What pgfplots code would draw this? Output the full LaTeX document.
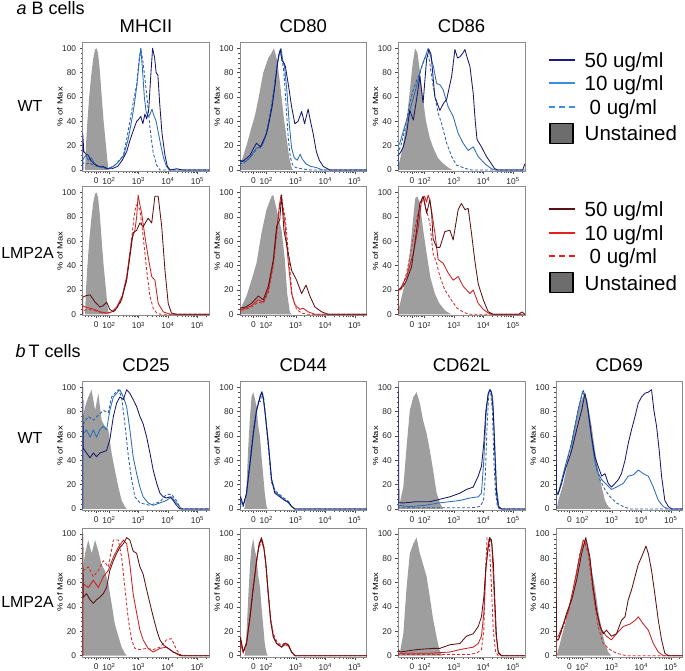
\documentclass[border=0pt]{standalone}
\usepackage{pgfplots}
\pgfplotsset{compat=1.18}
\usepackage{fontspec}
\setmainfont{Liberation Sans}
\usepackage{graphicx}
\definecolor{wtA}{HTML}{17176E}
\definecolor{wtB}{HTML}{2B6CB8}
\definecolor{wtC}{HTML}{2A5FA5}
\definecolor{wtAL}{HTML}{1A1A80}
\definecolor{wtBL}{HTML}{3A8EE6}
\definecolor{lmA}{HTML}{5E1014}
\definecolor{lmB}{HTML}{CC2020}
\definecolor{lmC}{HTML}{D42A2A}
\definecolor{lmBL}{HTML}{E8201C}
\definecolor{unst}{HTML}{9E9E9E}
\definecolor{unstL}{HTML}{6D6D6D}
\definecolor{frame}{HTML}{8C8C8C}
\pgfplotsset{
 panel/.style={
  scale only axis, width=126.5pt, height=129pt, anchor=south west,
  xmin=1.11, xmax=5.4, ymin=-1, ymax=105,
  axis line style={frame, line width=0.6pt},
  tick style={black!70, line width=0.4pt},
  tick pos=left,
  tick align=outside, major tick length=3pt, minor tick length=1.8pt,
  xtick={1.57,2,3,4,5},
  xticklabels={0,10\textsuperscript{2},10\textsuperscript{3},10\textsuperscript{4},10\textsuperscript{5}},
  minor xtick={1.2,1.3,1.4,1.5,1.65,1.72,1.8,1.87,1.93,
   2.301,2.477,2.602,2.699,2.778,2.845,2.903,2.954,
   3.301,3.477,3.602,3.699,3.778,3.845,3.903,3.954,
   4.301,4.477,4.602,4.699,4.778,4.845,4.903,4.954,5.301},
  ytick={0,20,40,60,80,100}, minor y tick num=4,
  ylabel={\scalebox{1.25}[1]{\% of Max}},
  ylabel style={at={(axis description cs:-0.18,0.5)}, anchor=center, rotate=0, font=\fontsize{7.5}{8}\selectfont},
  ticklabel style={font=\fontsize{8.4}{9}\selectfont, text=black!85},
  /pgf/number format/assume math mode=true,
  title style={at={(0.5,1)}, anchor=base, yshift=3.5pt, font=\fontsize{18.5}{20}\selectfont},
  every axis plot/.append style={line join=round},
 },
 u/.style={fill=unst, draw=none, forget plot},
 w50/.style={draw=wtA, line width=0.85pt, forget plot},
 w10/.style={draw=wtB, line width=0.85pt, forget plot},
 w0/.style={draw=wtC, line width=0.85pt, dash pattern=on 3pt off 2pt, forget plot},
 l50/.style={draw=lmA, line width=0.85pt, forget plot},
 l10/.style={draw=lmB, line width=0.85pt, forget plot},
 l0/.style={draw=lmC, line width=0.85pt, dash pattern=on 3pt off 2pt, forget plot},
 lgline/.style={legend image code/.code={\draw[##1] (0pt,0pt) -- (26pt,0pt);}},
 lgbox/.style={legend image code/.code={\draw[fill=unstL, draw=black, line width=1.3pt] (1.5pt,-10pt) rectangle (24.5pt,10pt);}},
 lgstyle/.style={legend style={at={(1,1)}, anchor=north west, xshift=22.4pt, yshift=#1, draw=none, fill=none,
   font=\fontsize{20.5}{22}\selectfont, row sep=8.5pt, column sep=9pt, inner sep=0pt,
   nodes={inner sep=0pt, text height=15pt, text depth=0pt}},
   legend cell align=left},
}
\begin{document}
\begin{tikzpicture}
\useasboundingbox (0,0) rectangle (685pt,671pt);
% group labels
\node[anchor=base west, font=\fontsize{18}{20}\selectfont\itshape] at (13pt,656pt) {a};
\node[anchor=base west, font=\fontsize{18}{20}\selectfont] at (28pt,656pt) {B cells};
\node[anchor=base west, font=\fontsize{18}{20}\selectfont\itshape] at (12pt,313.3pt) {b};
\node[anchor=base west, font=\fontsize{18}{20}\selectfont] at (25pt,313.3pt) {T cells};
\node[anchor=base, font=\fontsize{16}{18}\selectfont] at (30pt,559.3pt) {WT};
\node[anchor=base, font=\fontsize{16}{18}\selectfont] at (27.5pt,412.7pt) {LMP2A};
\node[anchor=base, font=\fontsize{16}{18}\selectfont] at (30pt,227.7pt) {WT};
\node[anchor=base, font=\fontsize{16}{18}\selectfont] at (27.5pt,63.7pt) {LMP2A};

% ===== B cells WT =====
\begin{axis}[panel, at={(82.7pt,499.8pt)}, title={MHCII}]
\addplot[u] coordinates {(1.19,0)(1.22,20)(1.27,40)(1.33,60)(1.40,78)(1.47,92)(1.53,99)(1.58,100)(1.63,96)(1.69,82)(1.75,62)(1.82,40)(1.90,20)(1.95,7)(1.99,0)} \closedcycle;
\addplot[w0] coordinates {(1.11,0)(1.11,5)(1.16,6)(1.25,5)(1.35,6)(1.45,4)(1.6,3)(1.75,2)(1.9,1)(2.05,2)(2.2,4)(2.35,8)(2.49,12)(2.6,25)(2.71,40)(2.82,55)(2.94,70)(3.02,90)(3.08,100)(3.16,88)(3.28,62)(3.39,35)(3.5,14)(3.62,4)(3.73,0)(5.4,0)};
\addplot[w10] coordinates {(1.11,0)(1.11,8)(1.15,10)(1.22,12)(1.3,8)(1.4,10)(1.5,6)(1.6,3)(1.8,2)(2.0,1)(2.15,3)(2.3,6)(2.5,12)(2.65,25)(2.75,38)(2.85,52)(2.95,70)(3.02,88)(3.08,100)(3.13,85)(3.2,60)(3.26,48)(3.33,44)(3.4,46)(3.46,50)(3.52,45)(3.6,40)(3.68,30)(3.76,20)(3.85,10)(3.95,3)(4.05,0)(5.4,0)};
\addplot[w50] coordinates {(1.11,0)(1.11,30)(1.15,15)(1.22,13)(1.3,12)(1.38,8)(1.5,5)(1.65,3)(1.8,3)(1.95,1)(2.1,1)(2.3,3)(2.45,8)(2.6,15)(2.72,25)(2.82,32)(2.94,40)(3.02,42)(3.08,44)(3.15,38)(3.22,46)(3.28,42)(3.35,50)(3.42,78)(3.48,100)(3.55,92)(3.6,80)(3.66,78)(3.72,55)(3.8,30)(3.9,12)(3.98,3)(4.08,0)(4.3,1)(4.5,0)(5.4,0)};
\end{axis}
\begin{axis}[panel, at={(240pt,499.8pt)}, title={CD80}]
\addplot[u] coordinates {(1.13,5)(1.2,10)(1.33,20)(1.5,35)(1.62,45)(1.73,58)(1.9,80)(2.07,92)(2.18,96)(2.26,100)(2.37,90)(2.45,75)(2.52,60)(2.6,42)(2.67,30)(2.78,10)(2.86,2)(2.9,0)} \closedcycle;
\addplot[w0] coordinates {(1.11,0)(1.11,5)(1.25,6)(1.4,9)(1.55,13)(1.7,18)(1.85,20)(2.0,30)(2.12,45)(2.22,60)(2.32,78)(2.4,92)(2.47,98)(2.53,92)(2.6,80)(2.68,50)(2.75,25)(2.82,10)(2.9,4)(3.0,2)(3.2,1)(3.5,0)(5.4,0)};
\addplot[w10] coordinates {(1.11,0)(1.11,6)(1.2,8)(1.3,7)(1.45,10)(1.55,14)(1.67,18)(1.8,18)(1.9,22)(2.01,30)(2.1,40)(2.2,55)(2.3,72)(2.38,88)(2.44,95)(2.5,100)(2.56,90)(2.62,85)(2.7,65)(2.78,38)(2.86,18)(2.95,10)(3.05,8)(3.15,13)(3.22,9)(3.35,5)(3.5,3)(3.7,2)(3.9,0)(5.4,0)};
\addplot[w50] coordinates {(1.11,0)(1.11,8)(1.2,7)(1.3,9)(1.45,12)(1.55,17)(1.67,22)(1.8,19)(1.9,24)(2.01,30)(2.1,40)(2.2,52)(2.3,70)(2.37,85)(2.43,95)(2.48,99)(2.53,90)(2.6,88)(2.65,85)(2.75,70)(2.86,52)(2.97,38)(3.08,40)(3.2,48)(3.3,38)(3.42,50)(3.5,40)(3.59,30)(3.7,15)(3.8,8)(3.93,3)(4.15,0)(5.4,0)};
\end{axis}
\begin{axis}[panel, at={(398.3pt,499.8pt)}, title={CD86}, lgstyle=-9.9pt]
\addplot[u] coordinates {(1.13,5)(1.2,12)(1.3,25)(1.4,42)(1.5,65)(1.6,88)(1.68,100)(1.76,96)(1.85,80)(1.95,58)(2.05,40)(2.18,26)(2.3,18)(2.45,10)(2.6,6)(2.8,2)(2.95,0)} \closedcycle;
\addplot[w0] coordinates {(1.11,0)(1.11,15)(1.2,20)(1.35,35)(1.5,55)(1.62,66)(1.75,75)(1.85,80)(1.95,88)(2.07,95)(2.15,92)(2.29,69)(2.46,47)(2.58,38)(2.75,22)(2.92,11)(3.08,4)(3.42,1)(3.6,0)(5.4,0)};
\addplot[w10] coordinates {(1.11,0)(1.11,20)(1.16,22)(1.39,41)(1.5,49)(1.73,69)(1.9,85)(2.07,96)(2.12,100)(2.2,94)(2.3,85)(2.41,71)(2.52,70)(2.63,66)(2.8,52)(2.97,44)(3.14,30)(3.31,22)(3.48,16)(3.65,19)(3.82,11)(4.05,5)(4.27,1)(4.4,0)(5.4,0)};
\addplot[w50] coordinates {(1.11,0)(1.11,12)(1.2,15)(1.28,19)(1.39,30)(1.5,49)(1.62,41)(1.73,58)(1.84,77)(1.95,55)(2.07,91)(2.15,99)(2.22,95)(2.35,60)(2.52,49)(2.65,55)(2.75,58)(2.92,77)(3.03,99)(3.12,92)(3.2,93)(3.3,96)(3.37,99)(3.45,92)(3.54,85)(3.65,63)(3.72,40)(3.78,25)(3.93,19)(4.1,11)(4.27,5)(4.38,1)(4.5,0)(5.33,0)(5.4,5)};
\addlegendimage{lgline, draw=wtAL, line width=2.3pt}\addlegendentry{50 ug/ml}
\addlegendimage{lgline, draw=wtBL, line width=2.3pt}\addlegendentry{10 ug/ml}
\addlegendimage{lgline, draw=wtBL, line width=2.3pt, dash pattern=on 6pt off 4pt}\addlegendentry{\hspace*{5pt}0 ug/ml}
\addlegendimage{lgbox}\addlegendentry{Unstained}
\end{axis}

% ===== B cells LMP2A =====
\begin{axis}[panel, at={(82.7pt,355.5pt)}]
\addplot[u] coordinates {(1.19,0)(1.22,20)(1.27,40)(1.33,60)(1.40,78)(1.47,92)(1.53,99)(1.58,100)(1.63,96)(1.69,82)(1.75,62)(1.82,40)(1.90,20)(1.95,7)(1.99,0)} \closedcycle;
\addplot[l0] coordinates {(1.11,0)(1.11,3)(1.3,4)(1.5,3)(1.8,1)(2.0,1)(2.2,3)(2.4,10)(2.6,28)(2.75,58)(2.85,80)(2.92,90)(3.0,88)(3.05,86)(3.16,64)(3.28,36)(3.39,15)(3.5,5)(3.62,1)(3.75,0)(5.4,0)};
\addplot[l10] coordinates {(1.11,0)(1.11,7)(1.19,6)(1.36,5)(1.5,4)(1.7,2)(1.92,1)(2.1,2)(2.26,6)(2.45,15)(2.6,31)(2.77,61)(2.88,69)(2.94,80)(2.99,98)(3.05,90)(3.11,83)(3.22,64)(3.33,47)(3.45,31)(3.56,28)(3.67,9)(3.84,2)(4.07,0)(5.4,0)};
\addplot[l50] coordinates {(1.11,0)(1.11,14)(1.19,15)(1.36,16)(1.53,10)(1.69,6)(1.8,7)(1.92,10)(2.03,4)(2.15,2)(2.26,5)(2.43,12)(2.6,28)(2.71,47)(2.82,67)(2.94,69)(3.05,75)(3.16,72)(3.33,79)(3.45,75)(3.56,97)(3.67,97)(3.79,72)(3.9,36)(4.01,9)(4.12,1)(4.3,0)(5.4,0)};
\end{axis}
\begin{axis}[panel, at={(240pt,355.5pt)}]
\addplot[u] coordinates {(1.13,3)(1.16,6)(1.33,15)(1.5,28)(1.67,42)(1.84,67)(2.01,86)(2.18,97)(2.24,98)(2.41,80)(2.52,69)(2.63,45)(2.71,17)(2.8,2)(2.85,0)} \closedcycle;
\addplot[l0] coordinates {(1.11,0)(1.11,3)(1.3,4)(1.5,6)(1.73,10)(1.9,9)(2.07,18)(2.24,40)(2.35,65)(2.45,88)(2.52,95)(2.65,78)(2.77,45)(2.88,15)(3.03,4)(3.2,1)(3.4,0)(5.4,0)};
\addplot[l10] coordinates {(1.11,0)(1.11,4)(1.3,5)(1.5,7)(1.73,12)(1.9,10)(2.07,20)(2.24,42)(2.35,68)(2.45,90)(2.5,98)(2.63,75)(2.75,42)(2.86,17)(2.97,8)(3.14,4)(3.25,5)(3.42,2)(3.65,0)(5.4,0)};
\addplot[l50] coordinates {(1.11,0)(1.11,5)(1.3,6)(1.5,9)(1.73,15)(1.9,12)(2.07,23)(2.24,45)(2.35,72)(2.46,78)(2.52,98)(2.6,69)(2.7,56)(2.86,36)(3.03,28)(3.2,17)(3.35,24)(3.48,15)(3.65,6)(3.88,2)(4.1,0)(5.4,0)};
\end{axis}
\begin{axis}[panel, at={(398.3pt,355.5pt)}, lgstyle=-15pt]
\addplot[u] coordinates {(1.13,5)(1.2,12)(1.3,22)(1.39,30)(1.5,50)(1.6,75)(1.68,95)(1.75,97)(1.84,92)(1.95,70)(2.07,50)(2.2,30)(2.35,17)(2.5,9)(2.7,3)(2.9,0)} \closedcycle;
\addplot[l0] coordinates {(1.11,0)(1.11,18)(1.25,22)(1.4,35)(1.6,60)(1.75,80)(1.9,92)(1.98,95)(2.07,85)(2.18,75)(2.29,50)(2.41,42)(2.52,31)(2.69,20)(2.9,12)(3.1,5)(3.3,2)(3.5,0)(5.4,0)};
\addplot[l10] coordinates {(1.11,0)(1.11,20)(1.16,20)(1.39,31)(1.62,50)(1.79,72)(1.9,94)(2.0,97)(2.07,92)(2.12,98)(2.18,94)(2.27,80)(2.35,67)(2.46,45)(2.63,42)(2.8,34)(2.97,28)(3.14,31)(3.31,23)(3.54,17)(3.65,20)(3.82,9)(3.99,4)(4.16,1)(4.3,0)(5.4,0)};
\addplot[l50] coordinates {(1.11,0)(1.11,20)(1.16,21)(1.28,23)(1.39,28)(1.56,39)(1.73,69)(1.84,91)(1.95,97)(2.07,83)(2.18,94)(2.24,83)(2.29,62)(2.41,55)(2.52,55)(2.69,68)(2.86,69)(2.97,61)(3.14,86)(3.25,91)(3.37,86)(3.48,87)(3.59,67)(3.7,45)(3.82,25)(3.99,12)(4.16,2)(4.33,0)(5.2,0)(5.3,2)(5.4,0)};
\addlegendimage{lgline, draw=lmA, line width=2.3pt}\addlegendentry{50 ug/ml}
\addlegendimage{lgline, draw=lmBL, line width=2.3pt}\addlegendentry{10 ug/ml}
\addlegendimage{lgline, draw=lmBL, line width=2.3pt, dash pattern=on 6pt off 4pt}\addlegendentry{\hspace*{5pt}0 ug/ml}
\addlegendimage{lgbox}\addlegendentry{Unstained}
\end{axis}

% ===== T cells WT =====
\begin{axis}[panel, at={(82.7pt,160.8pt)}, title={CD25}]
\addplot[u] coordinates {(1.11,75)(1.19,84)(1.3,92)(1.41,98)(1.53,81)(1.64,95)(1.75,73)(1.86,68)(1.98,65)(2.09,46)(2.2,32)(2.32,18)(2.43,7)(2.54,2)(2.6,0)} \closedcycle;
\addplot[w0] coordinates {(1.11,0)(1.11,70)(1.13,70)(1.3,76)(1.47,73)(1.64,77)(1.81,81)(1.98,79)(2.09,92)(2.2,95)(2.32,98)(2.43,92)(2.54,70)(2.66,43)(2.77,24)(2.88,10)(3.05,5)(3.39,3)(3.73,6)(3.95,12)(4.12,12)(4.29,7)(4.41,1)(4.5,0)(5.4,0)};
\addplot[w10] coordinates {(1.11,0)(1.11,62)(1.13,62)(1.24,65)(1.36,59)(1.47,65)(1.58,59)(1.69,65)(1.81,68)(1.92,65)(2.03,81)(2.15,92)(2.26,95)(2.37,98)(2.49,92)(2.6,84)(2.71,65)(2.82,43)(2.94,29)(3.05,18)(3.16,10)(3.33,5)(3.5,3)(3.73,5)(3.95,7)(4.12,10)(4.29,5)(4.46,0)(5.4,0)};
\addplot[w50] coordinates {(1.11,0)(1.11,100)(1.13,50)(1.24,46)(1.36,42)(1.47,46)(1.58,43)(1.69,46)(1.81,47)(1.92,48)(2.03,57)(2.15,76)(2.26,87)(2.37,92)(2.49,90)(2.6,98)(2.71,95)(2.82,90)(2.94,84)(3.05,76)(3.16,70)(3.28,59)(3.39,46)(3.5,32)(3.62,21)(3.73,13)(3.84,10)(3.95,9)(4.07,10)(4.18,7)(4.29,3)(4.41,0)(5.4,0)};
\end{axis}
\begin{axis}[panel, at={(240pt,160.8pt)}, title={CD44}]
\addplot[u] coordinates {(1.25,0)(1.28,2)(1.33,18)(1.39,51)(1.45,76)(1.5,92)(1.56,96)(1.62,90)(1.67,84)(1.73,68)(1.79,59)(1.84,43)(1.9,27)(1.95,13)(2.01,2)(2.05,0)} \closedcycle;
\addplot[w0] coordinates {(1.11,0)(1.11,5)(1.22,2)(1.33,12)(1.45,40)(1.56,65)(1.62,75)(1.7,85)(1.76,90)(1.8,88)(1.86,97)(1.92,90)(1.97,78)(2.07,50)(2.18,22)(2.3,15)(2.45,12)(2.6,9)(2.72,7)(2.86,2)(2.97,0)(5.4,0)};
\addplot[w10] coordinates {(1.11,0)(1.11,8)(1.22,3)(1.33,12)(1.45,36)(1.56,60)(1.67,80)(1.79,93)(1.85,95)(1.9,90)(1.96,80)(2.07,55)(2.18,25)(2.3,14)(2.46,11)(2.63,7)(2.75,5)(2.86,2)(2.97,0)(5.4,0)};
\addplot[w50] coordinates {(1.11,0)(1.11,10)(1.13,10)(1.22,3)(1.33,13)(1.45,38)(1.56,62)(1.67,81)(1.79,92)(1.84,96)(1.9,92)(1.95,81)(2.07,54)(2.18,24)(2.29,13)(2.46,10)(2.63,7)(2.75,6)(2.86,2)(2.97,0)(5.4,0)};
\end{axis}
\begin{axis}[panel, at={(398.3pt,160.8pt)}, title={CD62L}]
\addplot[u] coordinates {(1.13,2)(1.16,5)(1.28,18)(1.39,51)(1.5,81)(1.62,92)(1.73,96)(1.84,87)(1.95,73)(2.07,62)(2.18,48)(2.29,32)(2.41,13)(2.52,5)(2.63,0)} \closedcycle;
\addplot[w0] coordinates {(1.11,0)(1.11,1)(2.5,1)(3.6,1)(3.88,2)(4.0,7)(4.06,27)(4.12,68)(4.18,95)(4.24,96)(4.3,81)(4.35,40)(4.41,13)(4.47,2)(4.55,0)(5.4,0)};
\addplot[w10] coordinates {(1.11,0)(1.11,3)(1.5,2)(2.0,3)(2.52,5)(2.86,6)(3.2,7)(3.54,9)(3.82,10)(3.93,13)(4.01,40)(4.08,76)(4.16,95)(4.24,98)(4.31,92)(4.38,54)(4.44,18)(4.52,2)(4.6,0)(5.4,0)};
\addplot[w50] coordinates {(1.11,0)(1.11,100)(1.13,5)(1.3,5)(1.73,6)(2.18,6)(2.52,8)(2.86,10)(3.2,13)(3.42,16)(3.65,18)(3.82,27)(3.93,35)(4.01,54)(4.08,81)(4.16,95)(4.21,98)(4.27,96)(4.33,81)(4.38,48)(4.44,13)(4.5,2)(4.61,0)(5.4,0)};
\end{axis}
\begin{axis}[panel, at={(556pt,160.8pt)}, title={CD69}]
\addplot[u] coordinates {(1.13,0)(1.19,7)(1.36,21)(1.53,40)(1.64,54)(1.75,68)(1.86,81)(1.98,90)(2.09,95)(2.2,84)(2.32,68)(2.43,48)(2.54,32)(2.66,18)(2.77,7)(2.88,2)(2.99,0)} \closedcycle;
\addplot[w0] coordinates {(1.11,0)(1.11,12)(1.19,12)(1.42,33)(1.64,55)(1.86,82)(2.03,98)(2.15,88)(2.26,68)(2.43,40)(2.6,24)(2.77,16)(2.94,10)(3.16,5)(3.39,2)(3.62,0)(5.4,0)};
\addplot[w10] coordinates {(1.11,0)(1.11,13)(1.19,13)(1.42,35)(1.64,54)(1.86,81)(2.01,96)(2.15,90)(2.26,68)(2.37,48)(2.49,32)(2.66,24)(2.83,20)(2.99,16)(3.16,18)(3.39,21)(3.56,27)(3.73,28)(3.9,32)(4.07,29)(4.24,27)(4.41,18)(4.58,7)(4.75,2)(4.92,0)(5.4,0)};
\addplot[w50] coordinates {(1.11,0)(1.11,65)(1.13,13)(1.19,13)(1.3,21)(1.42,32)(1.53,40)(1.64,48)(1.75,59)(1.86,70)(1.98,81)(2.09,95)(2.2,81)(2.32,59)(2.43,43)(2.54,35)(2.66,27)(2.77,29)(2.88,21)(2.99,18)(3.11,21)(3.22,24)(3.33,29)(3.45,40)(3.56,54)(3.67,65)(3.79,76)(3.9,87)(4.01,92)(4.12,95)(4.24,96)(4.35,98)(4.43,81)(4.52,68)(4.61,48)(4.69,27)(4.8,7)(4.92,2)(5.03,0)(5.4,0)};
\end{axis}

% ===== T cells LMP2A =====
\begin{axis}[panel, at={(82.7pt,14.1pt)}]
\addplot[u] coordinates {(1.11,70)(1.19,84)(1.3,95)(1.41,84)(1.53,95)(1.64,86)(1.75,75)(1.86,70)(1.98,59)(2.09,43)(2.2,26)(2.32,16)(2.43,7)(2.54,2)(2.6,0)} \closedcycle;
\addplot[l0] coordinates {(1.11,0)(1.11,70)(1.13,70)(1.3,73)(1.47,65)(1.64,70)(1.81,78)(1.98,73)(2.15,95)(2.32,95)(2.43,81)(2.54,56)(2.66,29)(2.77,13)(2.88,6)(3.05,5)(3.28,6)(3.5,5)(3.73,7)(3.95,13)(4.12,14)(4.29,5)(4.41,1)(4.5,0)(5.4,0)};
\addplot[l10] coordinates {(1.11,0)(1.11,59)(1.13,59)(1.3,56)(1.47,62)(1.64,56)(1.81,65)(1.98,70)(2.15,81)(2.32,89)(2.49,95)(2.6,92)(2.71,75)(2.82,51)(2.94,35)(3.05,21)(3.16,13)(3.33,6)(3.5,3)(3.73,6)(3.95,7)(4.18,3)(4.41,0)(5.4,0)};
\addplot[l50] coordinates {(1.11,0)(1.11,100)(1.13,48)(1.24,51)(1.36,46)(1.47,43)(1.58,46)(1.69,48)(1.81,51)(1.92,56)(2.03,70)(2.15,78)(2.26,84)(2.37,89)(2.49,92)(2.6,97)(2.71,95)(2.82,86)(2.94,84)(3.05,73)(3.16,67)(3.28,54)(3.39,43)(3.5,32)(3.62,21)(3.73,13)(3.84,9)(3.95,7)(4.07,5)(4.18,3)(4.29,2)(4.46,0)(5.4,0)};
\end{axis}
\begin{axis}[panel, at={(240pt,14.1pt)}]
\addplot[u] coordinates {(1.25,0)(1.28,2)(1.33,18)(1.39,48)(1.45,75)(1.5,89)(1.56,96)(1.62,86)(1.67,81)(1.73,65)(1.79,56)(1.84,40)(1.9,24)(1.95,10)(2.01,2)(2.05,0)} \closedcycle;
\addplot[l0] coordinates {(1.11,0)(1.11,12)(1.22,2)(1.33,9)(1.45,34)(1.56,58)(1.65,72)(1.72,86)(1.78,90)(1.84,96)(1.9,92)(1.97,80)(2.05,55)(2.15,30)(2.24,18)(2.35,12)(2.52,8)(2.63,11)(2.75,9)(2.86,3)(2.97,0)(5.4,0)};
\addplot[l10] coordinates {(1.11,0)(1.11,14)(1.22,3)(1.33,11)(1.45,31)(1.56,55)(1.67,77)(1.76,91)(1.83,95)(1.92,88)(1.99,74)(2.07,50)(2.15,28)(2.24,15)(2.35,10)(2.52,7)(2.63,9)(2.75,8)(2.86,3)(2.97,0)(5.4,0)};
\addplot[l50] coordinates {(1.11,0)(1.11,15)(1.13,15)(1.22,3)(1.33,10)(1.45,32)(1.56,56)(1.67,78)(1.76,92)(1.84,97)(1.92,89)(1.99,75)(2.07,51)(2.15,29)(2.24,16)(2.35,10)(2.52,7)(2.63,10)(2.75,9)(2.86,3)(2.97,0)(5.4,0)};
\end{axis}
\begin{axis}[panel, at={(398.3pt,14.1pt)}]
\addplot[u] coordinates {(1.13,0)(1.16,2)(1.28,18)(1.39,56)(1.5,84)(1.62,92)(1.73,97)(1.84,84)(1.95,75)(2.07,65)(2.18,48)(2.29,30)(2.41,15)(2.5,5)(2.6,0)} \closedcycle;
\addplot[l0] coordinates {(1.11,0)(1.11,1)(3.5,1)(3.76,2)(3.93,5)(4.01,21)(4.07,70)(4.12,97)(4.19,95)(4.27,56)(4.33,21)(4.41,3)(4.5,0)(5.4,0)};
\addplot[l10] coordinates {(1.11,0)(1.11,2)(2.18,2)(2.86,3)(3.2,5)(3.42,6)(3.65,7)(3.82,10)(3.93,16)(4.01,35)(4.08,70)(4.16,92)(4.21,97)(4.28,92)(4.35,56)(4.42,18)(4.5,2)(4.6,0)(5.4,0)};
\addplot[l50] coordinates {(1.11,0)(1.11,5)(1.16,3)(1.73,5)(2.29,6)(2.52,6)(2.86,9)(3.2,10)(3.42,16)(3.65,18)(3.82,24)(3.93,32)(4.01,48)(4.08,73)(4.16,89)(4.21,97)(4.27,95)(4.33,78)(4.38,48)(4.44,16)(4.5,3)(4.61,0)(5.4,0)};
\end{axis}
\begin{axis}[panel, at={(556pt,14.1pt)}]
\addplot[u] coordinates {(1.13,0)(1.19,5)(1.36,21)(1.53,37)(1.64,46)(1.75,59)(1.86,78)(1.98,89)(2.09,95)(2.2,86)(2.32,70)(2.43,56)(2.54,37)(2.66,21)(2.77,10)(2.88,3)(2.99,0)} \closedcycle;
\addplot[l0] coordinates {(1.11,0)(1.11,13)(1.19,13)(1.47,32)(1.7,51)(1.92,84)(2.06,95)(2.2,84)(2.37,51)(2.54,24)(2.71,10)(2.94,5)(3.16,2)(3.5,0)(5.4,0)};
\addplot[l10] coordinates {(1.11,0)(1.11,16)(1.19,16)(1.36,26)(1.53,37)(1.7,56)(1.86,75)(2.03,95)(2.15,92)(2.26,78)(2.37,54)(2.49,35)(2.66,21)(2.82,16)(2.99,13)(3.16,18)(3.39,24)(3.62,26)(3.79,29)(3.9,32)(4.07,26)(4.24,21)(4.41,10)(4.58,3)(4.75,0)(5.4,0)};
\addplot[l50] coordinates {(1.11,0)(1.11,85)(1.13,13)(1.19,13)(1.3,21)(1.47,35)(1.64,46)(1.81,62)(1.98,84)(2.12,97)(2.26,81)(2.37,56)(2.49,37)(2.6,24)(2.71,18)(2.82,21)(2.99,16)(3.16,18)(3.33,29)(3.45,32)(3.56,46)(3.67,54)(3.79,65)(3.9,75)(4.01,81)(4.16,90)(4.24,84)(4.35,70)(4.46,51)(4.58,29)(4.69,13)(4.8,2)(4.92,0)(5.4,0)};
\end{axis}
\end{tikzpicture}
\end{document}
